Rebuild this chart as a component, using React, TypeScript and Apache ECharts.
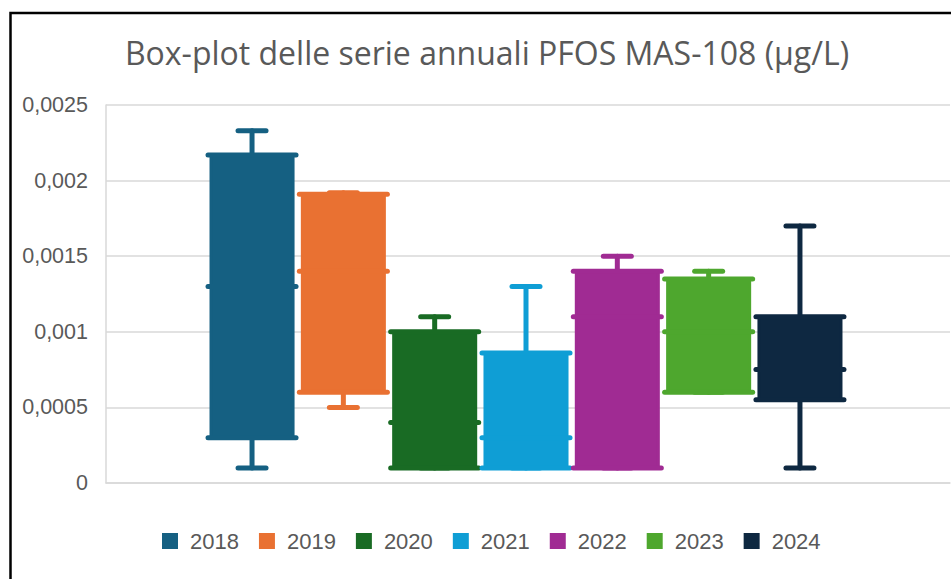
import React, { useEffect, useRef } from "react";
import * as echarts from "echarts";

const TITLE = "Box-plot delle serie annuali PFOS MAS-108 (µg/L)";
const YEARS = ["2018", "2019", "2020", "2021", "2022", "2023", "2024"];
const COLORS = ["#156082", "#E97132", "#196B24", "#0F9ED5", "#A02B93", "#4EA72E", "#0E2841"];
// [min, q1, median, q3, max]
const MINS = [0.0001, 0.0005, 0.0001, 0.0001, 0.0001, 0.0006, 0.0001];
const Q1S = [0.0003, 0.0006, 0.0001, 0.0001, 0.0001, 0.0006, 0.00055];
const MEDIANS = [0.0013, 0.0014, 0.0004, 0.0003, 0.0011, 0.001, 0.00075];
const Q3S = [0.00217, 0.00191, 0.001, 0.00086, 0.0014, 0.00135, 0.0011];
const MAXS = [0.00233, 0.00192, 0.0011, 0.0013, 0.0015, 0.0014, 0.0017];
const TICK_LABELS = ["0", "0,0005", "0,001", "0,0015", "0,002", "0,0025"];
const Y_INTERVAL = 0.0005;
const Y_MAX = 0.0025;

const SLOT_RATIO = 0.1082;
const BOX_RATIO = 0.0972;

export default function App() {
  const ref = useRef<HTMLDivElement>(null);
  useEffect(() => {
    if (!ref.current) return;
    const chart = echarts.init(ref.current, undefined, { renderer: "svg" });
    const n = YEARS.length;
    const series = YEARS.map((year, i) => ({
      name: year,
      type: "custom",
      itemStyle: { color: COLORS[i] },
      data: [[0, MINS[i], Q1S[i], MEDIANS[i], Q3S[i], MAXS[i]]],
      renderItem: (params: any, api: any) => {
        const idx = params.seriesIndex;
        const color = COLORS[idx];
        const base = api.coord([0, 0]);
        const band = api.size([1, 0])[0];
        const slot = band * SLOT_RATIO;
        const bw = band * BOX_RATIO;
        const cx = base[0] - 2 + (idx - (n - 1) / 2) * slot;
        const yMin = api.coord([0, api.value(1)])[1];
        const yQ1 = api.coord([0, api.value(2)])[1];
        const yMed = api.coord([0, api.value(3)])[1];
        const yQ3 = api.coord([0, api.value(4)])[1];
        const yMax = api.coord([0, api.value(5)])[1];
        const half = bw / 2;
        const capHalf = 14;
        const lineStyle = { stroke: color, lineWidth: 5, lineCap: "round" };
        const hLine = (y: number, ext: number) => ({
          type: "line",
          shape: { x1: cx - ext, y1: y, x2: cx + ext, y2: y },
          style: { stroke: color, lineWidth: 5, lineCap: "round" },
        });
        return {
          type: "group",
          children: [
            { type: "line", shape: { x1: cx, y1: yMin, x2: cx, y2: yMax }, style: lineStyle },
            hLine(yMin, capHalf),
            hLine(yMax, capHalf),
            {
              type: "rect",
              shape: { x: cx - half, y: yQ3, width: bw, height: yQ1 - yQ3 },
              style: { fill: color, stroke: color, lineWidth: 3 },
            },
            hLine(yQ1, half + 3),
            hLine(yMed, half + 3),
            hLine(yQ3, half + 3),
          ],
        };
      },
    }));

    chart.setOption({
      animation: false,
      backgroundColor: "#ffffff",
      graphic: [
        {
          type: "rect",
          shape: { x: 10.5, y: 13, width: 1200, height: 1200 },
          style: { fill: "none", stroke: "#000000", lineWidth: 2.5 },
          silent: true,
        },
        {
          type: "text",
          x: 487,
          y: 52,
          style: {
            text: TITLE,
            fill: "#595959",
            font: "32px 'Open Sans'",
            textAlign: "center",
            textVerticalAlign: "middle",
          },
        },
      ],
      grid: { left: 106, right: 1, top: 105, bottom: 96, containLabel: false },
      legend: {
        data: YEARS.map((y) => ({ name: y, icon: "rect" })),
        left: 162,
        top: 530,
        padding: 0,
        itemWidth: 16,
        itemHeight: 16,
        itemGap: 20,
        textStyle: {
          color: "#595959",
          fontSize: 22,
          fontFamily: "'Liberation Sans', Arial, sans-serif",
          padding: [0, 0, 0, 7],
        },
      },
      xAxis: {
        type: "category",
        data: [""],
        axisLine: { show: true, lineStyle: { color: "#d9d9d9", width: 1.5 } },
        axisTick: { show: false },
        axisLabel: { show: false },
      },
      yAxis: {
        type: "value",
        min: 0,
        max: Y_MAX,
        interval: Y_INTERVAL,
        axisLine: { show: true, lineStyle: { color: "#d9d9d9", width: 1.5 } },
        axisTick: { show: false },
        splitLine: { lineStyle: { color: "#d9d9d9", width: 1.5 } },
        axisLabel: {
          margin: 18,
          color: "#595959",
          fontSize: 21.5,
          fontFamily: "'Liberation Sans', Arial, sans-serif",
          formatter: (v: number) => TICK_LABELS[Math.round(v / Y_INTERVAL)],
        },
      },
      series,
    });
    return () => chart.dispose();
  }, []);
  return (
    <div
      ref={ref}
      style={{ position: "fixed", left: 0, top: 0, width: 951, height: 579, background: "#fff" }}
    />
  );
}
